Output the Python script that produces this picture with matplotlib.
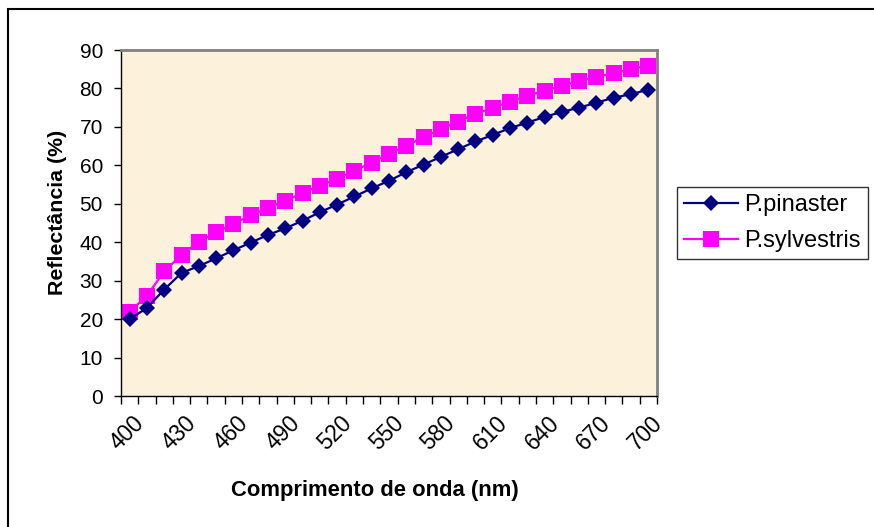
import matplotlib
matplotlib.use("Agg")
import matplotlib.pyplot as plt
from matplotlib.patches import Rectangle
from matplotlib.transforms import ScaledTranslation

plt.rcParams['font.family'] = ['Liberation Sans', 'DejaVu Sans']

# Wavelength categories (nm)
wavelengths = [400, 410, 420, 430, 440, 450, 460, 470, 480, 490, 500,
               510, 520, 530, 540, 550, 560, 570, 580, 590, 600,
               610, 620, 630, 640, 650, 660, 670, 680, 690, 700]

# Reflectance (%) per species
pinaster = [20.0, 22.9, 27.7, 32.0, 33.8, 35.8, 37.9, 39.9, 41.9, 43.6, 45.6,
            47.8, 49.8, 51.9, 54.0, 56.0, 58.2, 60.2, 62.2, 64.2, 66.2,
            67.9, 69.7, 71.1, 72.6, 73.9, 75.0, 76.3, 77.6, 78.5, 79.7]
sylvestris = [21.9, 26.1, 32.4, 36.7, 40.1, 42.6, 44.8, 47.0, 48.9, 50.8, 52.8,
              54.7, 56.5, 58.6, 60.7, 63.0, 65.1, 67.3, 69.4, 71.4, 73.3,
              75.0, 76.6, 78.1, 79.4, 80.7, 81.9, 83.1, 83.9, 85.1, 85.9]

series_names = ["P.pinaster", "P.sylvestris"]
y_ticks = [0, 10, 20, 30, 40, 50, 60, 70, 80, 90]
x_label = "Comprimento de onda (nm)"
y_label = "Reflectância (%)"

W, H = 874, 527
fig = plt.figure(figsize=(W / 100, H / 100), dpi=100)
fig.patch.set_facecolor("white")

# chart-area frame
fig.patches.append(Rectangle((8 / W, -0.1), 2.0, (H - 9) / H + 0.1,
                             transform=fig.transFigure, fill=False,
                             edgecolor="black", linewidth=1.5, zorder=0))

left, right, top, bottom = 121, 657, 50, 396
ax = fig.add_axes([left / W, 1 - bottom / H, (right - left) / W, (bottom - top) / H])
ax.set_facecolor("#FCF1DB")

idx = list(range(len(wavelengths)))
ax.plot(idx, pinaster, color="#000080", linewidth=1.6, marker="D",
        markersize=8.5, markeredgewidth=0, label=series_names[0], zorder=3)
ax.plot(idx, sylvestris, color="#FF00FF", linewidth=1.6, marker="s",
        markersize=11, markeredgewidth=0, label=series_names[1], zorder=2)

ax.set_xlim(-0.5, len(wavelengths) - 0.5)
ax.set_ylim(0, 90)
ax.set_yticks(y_ticks)
ax.tick_params(axis="y", direction="out", length=5, width=1, pad=8,
               labelsize=15, colors="black")

# labels every third category, tick marks between categories
lab_idx = [i for i in idx if i % 3 == 0]
ax.set_xticks(lab_idx)
ax.set_xticklabels([str(wavelengths[i]) for i in lab_idx], rotation=45,
                   ha="right", va="top")
ax.set_xticks([i - 0.5 for i in range(len(wavelengths) + 1)], minor=True)
ax.tick_params(axis="x", which="major", length=0, pad=11, labelsize=16.3)
ax.tick_params(axis="x", which="minor", direction="out", length=6, width=1)
for lbl in ax.get_xticklabels():
    lbl.set_transform(lbl.get_transform() + ScaledTranslation(19 / 100, 0, fig.dpi_scale_trans))

for side in ("top", "right"):
    ax.spines[side].set_color("#808080")
    ax.spines[side].set_linewidth(2)
for side in ("left", "bottom"):
    ax.spines[side].set_color("black")
    ax.spines[side].set_linewidth(1)

ax.set_xlabel(x_label, fontsize=15.8, fontweight="bold")
ax.xaxis.set_label_coords((375 - left) / (right - left), -(480 - bottom) / (bottom - top))
ax.set_ylabel(y_label, fontsize=15.4, fontweight="bold")
ax.yaxis.set_label_coords(-(left - 67) / (right - left), (bottom - 212) / (bottom - top))

leg = ax.legend(loc="upper left", bbox_to_anchor=(677 / W, 1 - 187 / H),
                bbox_transform=fig.transFigure, borderaxespad=0,
                fontsize=17, frameon=True, fancybox=False, shadow=False,
                handlelength=2.3, handletextpad=0.25, labelspacing=0.6,
                borderpad=0.3)
leg.get_frame().set_edgecolor("black")
leg.get_frame().set_linewidth(1)

fig.savefig("out.png", dpi=100)
